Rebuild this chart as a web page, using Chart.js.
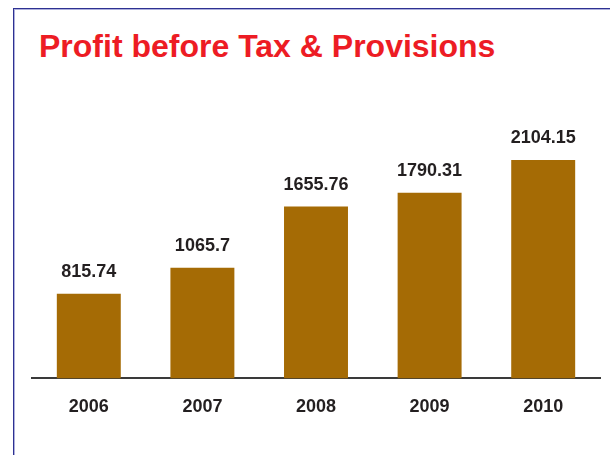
<!DOCTYPE html>
<html>
<head>
<meta charset="utf-8">
<script src="https://cdn.jsdelivr.net/npm/chart.js@4.4.1/dist/chart.umd.min.js"></script>
<style>
  html, body { margin: 0; padding: 0; background: #fff; }
  #wrap { position: relative; width: 610px; height: 455px; overflow: hidden; }
  #frame {
    position: absolute; left: 13px; top: 8px; width: 700px; height: 600px;
    border-left: 1px solid #2e3192; border-top: 1px solid #2e3192;
    box-shadow: inset 1px 1px 0 #aeb0dc;
  }
  #title {
    position: absolute; left: 39px; top: 28px; margin: 0;
    font: bold 32px "Liberation Sans", Arial, sans-serif; color: #ed1c24;
    white-space: nowrap;
  }
  #c { position: absolute; left: 0; top: 0; }
</style>
</head>
<body>
<div id="wrap">
  <div id="frame"></div>
  <div id="title">Profit before Tax &amp; Provisions</div>
  <canvas id="c" width="610" height="455"></canvas>
</div>
<script>
var years = ['2006', '2007', '2008', '2009', '2010']
var profit = [815.74, 1065.7, 1655.76, 1790.31, 2104.15]
var valueLabels = ['815.74', '1065.7', '1655.76', '1790.31', '2104.15']

// value text over each bar
var barValues = {
  id: 'barValues',
  afterDatasetsDraw: function(chart){
    var ctx = chart.ctx
    var meta = chart.getDatasetMeta(0)
    ctx.save()
    ctx.font = 'bold 18px "Liberation Sans", Arial, sans-serif'
    ctx.fillStyle = '#231f20'
    ctx.textAlign = 'center'
    ctx.textBaseline = 'alphabetic'
    meta.data.forEach(function(bar, i){
      ctx.fillText(valueLabels[i], bar.x, bar.y - 17)
    })
    ctx.restore()
  }
}

var chart = new Chart(document.querySelector('#c'), {
  type: 'bar',
  data: {
    labels: years,
    datasets: [{
      data: profit,
      backgroundColor: '#a56b05',
      borderWidth: 0,
      barPercentage: 0.563,
      categoryPercentage: 1
    }]
  },
  options: {
    responsive: false,
    animation: false,
    layout: { padding: { left: 32, right: 10, top: 119, bottom: 19 } },
    plugins: { legend: { display: false }, tooltip: { enabled: false } },
    scales: {
      y: { display: false, min: 0, max: 2500 },
      x: {
        grid: { display: false, drawTicks: false },
        border: { display: true, color: '#3a3a3a', width: 2 },
        ticks: {
          padding: 18,
          color: '#231f20',
          font: { family: '"Liberation Sans", Arial, sans-serif', size: 18, weight: 'bold' }
        }
      }
    }
  },
  plugins: [barValues]
});
</script>
</body>
</html>
